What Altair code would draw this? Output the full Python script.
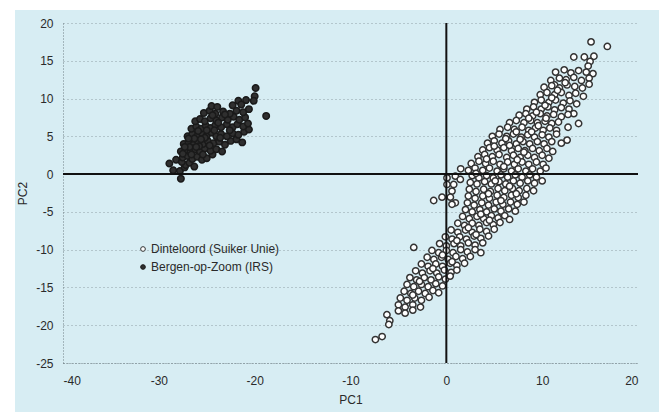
import altair as alt
import pandas as pd

# PC scores (approximate)
berg_points = [
    (-19.9, 11.4), (-20.0, 10.3), (-20.1, 9.7), (-21.7, 9.7), (-20.9, 9.8), (-18.8, 7.7),
    (-21.3, 4.2), (-28.9, 1.4), (-28.2, 1.9), (-27.7, -0.6), (-28.5, 0.5), (-27.8, 0.4), (-27.3, 0.9),
    (-27.2, 1.2), (-26.8, 1.5), (-26.3, 1.0), (-27.6, 1.6),
    (-27.5, 2.2), (-27.0, 2.4), (-26.5, 2.0), (-26.0, 2.3), (-25.5, 1.9), (-25.0, 2.1), (-24.4, 2.6),
    (-27.7, 3.0), (-27.2, 3.2), (-26.7, 2.9), (-26.2, 3.3), (-25.7, 3.0), (-25.2, 3.4), (-24.6, 3.1),
    (-24.0, 3.3), (-23.4, 3.0),
    (-27.4, 4.0), (-26.9, 4.2), (-26.4, 3.9), (-25.9, 4.3), (-25.4, 4.0), (-24.9, 4.4), (-24.3, 4.1),
    (-23.7, 4.3), (-23.1, 3.9), (-22.5, 4.4), (-21.9, 4.6),
    (-27.0, 5.0), (-26.5, 5.3), (-26.0, 5.0), (-25.5, 5.4), (-25.0, 5.1), (-24.5, 5.5), (-24.0, 5.0),
    (-23.5, 5.3), (-22.9, 5.0), (-22.3, 5.4), (-21.7, 5.2), (-21.1, 5.6), (-20.6, 5.9),
    (-26.6, 6.0), (-26.1, 6.3), (-25.6, 6.0), (-25.1, 6.4), (-24.6, 6.1), (-24.1, 6.5), (-23.5, 6.2),
    (-22.9, 6.6), (-22.3, 6.2), (-21.8, 6.6), (-21.2, 6.3), (-20.7, 6.7),
    (-26.2, 7.0), (-25.7, 7.3), (-25.2, 7.0), (-24.6, 7.4), (-24.0, 7.1), (-23.4, 7.5), (-22.8, 7.2),
    (-22.2, 7.6), (-21.6, 7.2), (-21.0, 7.5),
    (-25.3, 8.1), (-24.7, 8.4), (-24.1, 8.0), (-23.3, 8.3), (-22.6, 8.0), (-21.9, 8.4), (-21.2, 8.2),
    (-20.6, 8.6),
    (-24.5, 9.0), (-23.9, 8.9), (-22.3, 9.1), (-21.4, 9.2),
    (-26.8, 3.6), (-26.3, 4.7), (-25.8, 3.7), (-25.2, 4.8), (-24.7, 3.8), (-24.2, 5.8), (-23.8, 6.8),
    (-25.9, 5.7), (-26.9, 4.7), (-27.3, 3.6), (-26.6, 2.6), (-25.4, 2.6), (-23.6, 4.8), (-22.6, 5.8),
    (-23.1, 7.9), (-24.4, 7.8), (-25.0, 5.8), (-25.6, 4.6), (-26.1, 3.6), (-27.5, 2.7),
]

dint_points = [
    (15.1, 17.5), (16.8, 16.9),
    (13.3, 15.5), (14.4, 15.5), (15.4, 15.6), (15.0, 14.9), (14.8, 14.3),
    (11.4, 13.5), (12.3, 13.8), (13.0, 13.4), (13.8, 13.7), (14.6, 13.5), (15.3, 13.3),
    (10.9, 12.4), (11.8, 12.7), (12.5, 12.5), (13.3, 12.8), (14.1, 12.4), (14.9, 12.7), (11.3, 11.8),
    (10.2, 11.5), (11.0, 11.7), (11.8, 11.4), (12.6, 11.8), (13.4, 11.6), (14.2, 11.4), (14.9, 11.9),
    (9.8, 10.5), (10.5, 10.8), (11.3, 10.5), (12.0, 10.8), (12.8, 10.4), (13.5, 10.7), (14.3, 10.3),
    (9.2, 9.5), (9.9, 9.8), (10.7, 9.5), (11.4, 9.8), (12.2, 9.4), (12.9, 9.7), (13.6, 9.3),
    (8.4, 8.6), (9.1, 8.9), (9.9, 8.6), (10.6, 8.9), (11.3, 8.5), (12.0, 8.8), (12.8, 8.6), (13.3, 8.0),
    (7.6, 7.8), (8.3, 8.0), (9.0, 7.7), (9.8, 8.0), (10.5, 7.7), (11.2, 7.9), (12.0, 7.6), (12.7, 7.9),
    (13.8, 6.7), (12.7, 6.2),
    (6.6, 6.8), (7.3, 7.1), (8.1, 6.8), (8.8, 7.1), (9.5, 6.8), (10.3, 7.0), (11.0, 6.7), (11.7, 6.9),
    (5.6, 5.9), (6.4, 6.2), (7.1, 5.9), (7.9, 6.2), (8.6, 5.8), (9.3, 6.1), (10.1, 5.8), (10.8, 6.1),
    (11.5, 5.8),
    (4.8, 5.0), (5.5, 5.3), (6.3, 5.0), (7.0, 5.3), (7.8, 4.9), (8.5, 5.2), (9.2, 4.9), (10.0, 5.2),
    (10.7, 4.9), (11.5, 5.3), (12.6, 4.5), (12.0, 4.1),
    (4.3, 4.1), (5.0, 4.4), (5.8, 4.1), (6.5, 4.4), (7.3, 4.0), (8.0, 4.3), (8.7, 4.0), (9.5, 4.3),
    (10.2, 4.0), (11.0, 4.3),
    (3.8, 3.2), (4.5, 3.5), (5.3, 3.2), (6.0, 3.5), (6.8, 3.1), (7.5, 3.4), (8.2, 3.1), (9.0, 3.4),
    (9.7, 3.1), (10.5, 3.4), (11.1, 3.0),
    (3.3, 2.3), (4.0, 2.6), (4.8, 2.3), (5.5, 2.6), (6.3, 2.2), (7.0, 2.5), (7.7, 2.2), (8.5, 2.5),
    (9.2, 2.2), (10.0, 2.5), (10.7, 2.1),
    (2.6, 1.4), (3.4, 1.7), (4.1, 1.4), (4.9, 1.7), (5.6, 1.3), (6.4, 1.6), (7.1, 1.3), (7.9, 1.6),
    (8.6, 1.3), (9.4, 1.6), (10.1, 1.3),
    (1.5, 0.7), (2.3, 0.5), (3.0, 0.8), (3.8, 0.5), (4.5, 0.8), (5.3, 0.4), (6.0, 0.7), (6.8, 0.4),
    (7.5, 0.7), (8.3, 0.4), (9.0, 0.7), (9.8, 0.4), (10.4, 0.8),
    (2.7, -0.2), (3.4, -0.5), (4.2, -0.2), (4.9, -0.5), (5.7, -0.1), (6.4, -0.4), (7.2, -0.1),
    (7.9, -0.4), (8.7, -0.1), (9.4, -0.4),
    (0.07, -0.5), (0.94, -0.27), (1.46, -0.7), (0.07, -1.37), (0.77, -1.37), (0.59, -2.25),
    (-1.32, -3.49), (-0.45, -3.05), (0.42, -3.05), (0.94, -3.8), (0.59, -4.0),
    (2.5, -1.1), (3.2, -1.3), (4.0, -1.0), (4.7, -1.3), (5.5, -1.0), (6.2, -1.3), (7.0, -0.9),
    (7.7, -1.2), (8.5, -0.9), (9.2, -1.2), (10.0, -0.9),
    (2.4, -2.0), (3.1, -2.3), (3.9, -2.0), (4.6, -2.3), (5.4, -1.9), (6.1, -2.2), (6.9, -1.9),
    (7.6, -2.2), (8.4, -1.9), (9.1, -2.2),
    (2.3, -2.9), (3.0, -3.2), (3.8, -2.9), (4.5, -3.2), (5.3, -2.8), (6.0, -3.1), (6.8, -2.8),
    (7.5, -3.1), (8.3, -2.8),
    (2.2, -3.8), (2.9, -4.1), (3.7, -3.8), (4.4, -4.1), (5.2, -3.7), (5.9, -4.0), (6.7, -3.7),
    (7.4, -4.0), (8.1, -3.7),
    (2.0, -4.7), (2.7, -5.0), (3.5, -4.7), (4.2, -5.0), (5.0, -4.6), (5.7, -4.9), (6.5, -4.6), (7.2, -4.9),
    (1.7, -5.6), (2.4, -5.9), (3.2, -5.6), (3.9, -5.9), (4.7, -5.5), (5.4, -5.8), (6.1, -5.5), (6.6, -6.0),
    (1.2, -6.5), (1.9, -6.8), (2.7, -6.5), (3.4, -6.8), (4.2, -6.4), (4.9, -6.7), (5.6, -6.4),
    (0.5, -7.4), (1.2, -7.7), (2.0, -7.4), (2.7, -7.7), (3.5, -7.3), (4.2, -7.6), (5.0, -7.3),
    (-0.1, -8.3), (0.6, -8.6), (1.4, -8.3), (2.1, -8.6), (2.9, -8.2), (3.6, -8.5), (4.4, -8.2),
    (-0.7, -9.2), (0.0, -9.5), (0.8, -9.2), (1.5, -9.5), (2.3, -9.1), (3.0, -9.4), (3.8, -9.1),
    (-3.4, -9.7),
    (-1.5, -10.1), (-0.8, -10.4), (0.0, -10.1), (0.7, -10.4), (1.5, -10.0), (2.2, -10.3), (3.0, -10.0),
    (3.6, -10.4),
    (-2.0, -11.0), (-1.3, -11.3), (-0.5, -11.0), (0.2, -11.3), (1.0, -10.9), (1.7, -11.2), (2.5, -10.9),
    (-2.6, -11.9), (-1.9, -12.2), (-1.1, -11.9), (-0.4, -12.2), (0.4, -11.8), (1.1, -12.1), (1.9, -11.8),
    (-3.2, -12.8), (-2.5, -13.1), (-1.7, -12.8), (-1.0, -13.1), (-0.2, -12.7), (0.5, -13.0), (1.1, -12.7),
    (-3.8, -13.7), (-3.1, -14.0), (-2.3, -13.7), (-1.6, -14.0), (-0.8, -13.6), (-0.1, -13.9), (0.4, -13.5),
    (-4.1, -14.6), (-3.4, -14.9), (-2.6, -14.6), (-1.9, -14.9), (-1.1, -14.5), (-0.4, -14.8),
    (-4.4, -15.5), (-3.7, -15.8), (-2.9, -15.5), (-2.2, -15.8), (-1.4, -15.4), (-0.8, -15.7),
    (-4.8, -16.4), (-4.1, -16.7), (-3.3, -16.4), (-2.6, -16.7), (-1.8, -16.3),
    (-5.0, -17.3), (-4.3, -17.6), (-3.5, -17.3), (-2.7, -17.6),
    (-5.0, -18.1), (-4.3, -18.4), (-3.5, -18.0),
    (-6.2, -18.6), (-5.9, -19.4), (-6.0, -19.9), (-7.4, -21.9), (-6.7, -21.5),
    (6.0, 1.0), (7.4, 1.9), (8.1, 2.9), (6.6, 3.8), (7.7, 4.6), (8.9, 5.6), (9.6, 6.4), (10.4, 7.4),
    (8.6, 7.4), (9.4, 8.2), (10.3, 9.1), (11.0, 10.1), (11.6, 11.1), (12.4, 12.1), (5.1, -0.9),
    (4.4, -2.6), (5.7, -3.5), (3.6, -5.3), (4.5, -6.1), (2.3, -7.1), (3.1, -8.0), (1.1, -8.8),
    (-0.4, -10.7), (0.6, -11.6), (-1.4, -12.5), (-2.8, -14.2), (-3.5, -16.0), (5.0, 3.7), (6.2, 4.7),
    (7.3, 5.6), (4.2, 2.0), (3.1, 0.1), (6.6, -1.6), (7.3, -2.6),
]

site_names = ["Dinteloord (Suiker Unie)", "Bergen-op-Zoom (IRS)"]
site_fill = ["#ffffff", "#2f2f2f"]
site_stroke = ["#333333", "#1a1a1a"]
x_ticks = [-40, -30, -20, -10, 0, 10, 20]
y_ticks = [-25, -20, -15, -10, -5, 0, 5, 10, 15, 20]

rows = [{"pc1": x, "pc2": y, "site": site_names[0]} for x, y in dint_points]
rows += [{"pc1": x, "pc2": y, "site": site_names[1]} for x, y in berg_points]
df = pd.DataFrame(rows)

FONT = "Liberation Sans"
TXT = "#2a2a2a"
PANEL = "#d7edf3"
GRID = "#6f7f84"

xs = alt.Scale(domain=[-40, 20], nice=False, zero=False)
ys = alt.Scale(domain=[-25, 20], nice=False, zero=False)
fill_scale = alt.Scale(domain=site_names, range=site_fill)
stroke_scale = alt.Scale(domain=site_names, range=site_stroke)

# white margins of the scanned page (top and left strips)
one = pd.DataFrame({"a": [0]})
top_strip = alt.Chart(one).mark_rect(color="#ffffff").encode(
    x=alt.value(-63), x2=alt.value(596), y=alt.value(-23), y2=alt.value(-13)
)
left_strip = alt.Chart(one).mark_rect(color="#ffffff").encode(
    x=alt.value(-63), x2=alt.value(-48), y=alt.value(-23), y2=alt.value(389)
)

x_axis = alt.Axis(
    values=x_ticks, title="PC1", grid=False, ticks=False, labelPadding=12,
    labelExpr="'' + datum.value", labelOverlap=False,
    domainDash=[1, 2], domainColor=GRID, titlePadding=8)
y_axis = alt.Axis(
    values=y_ticks, title="PC2", grid=True, gridDash=[1, 3], gridColor=GRID,
    gridOpacity=0.7, ticks=False, labelPadding=10, domainDash=[1, 2],
    labelExpr="'' + datum.value", labelOverlap=False,
    domainColor=GRID, titleX=-41, titleY=170, titleAngle=270,
    titleAlign="center", titleBaseline="middle")

points = alt.Chart(df).mark_point(filled=True, shape="circle", strokeWidth=1.5, opacity=1).encode(
    x=alt.X("pc1:Q", scale=xs, axis=x_axis),
    y=alt.Y("pc2:Q", scale=ys, axis=y_axis),
    fill=alt.Fill("site:N", scale=fill_scale, legend=None),
    stroke=alt.Stroke("site:N", scale=stroke_scale, legend=None),
    size=alt.Size("site:N", scale=alt.Scale(domain=site_names, range=[40, 42]), legend=None),
)

hline = alt.Chart(pd.DataFrame({"y": [0]})).mark_rule(color="#111111", strokeWidth=2).encode(
    y=alt.Y("y:Q", scale=ys, axis=y_axis)
)
vline = alt.Chart(pd.DataFrame({"x": [0]})).mark_rule(color="#111111", strokeWidth=2).encode(
    x=alt.X("x:Q", scale=xs, axis=x_axis)
)

# hand-placed legend inside the plot area
legend_layers = []
for i, name in enumerate(site_names):
    row_df = pd.DataFrame({"site": [name]})
    ypix = 226 + 18 * i
    legend_layers.append(
        alt.Chart(row_df).mark_point(filled=True, shape="circle", size=22, strokeWidth=1,
                                     fill=site_fill[i], stroke=site_stroke[i], opacity=1).encode(
            x=alt.value(80), y=alt.value(ypix))
    )
    legend_layers.append(
        alt.Chart(row_df).mark_text(align="left", baseline="middle", font=FONT,
                                    fontSize=12, color=TXT).encode(
            x=alt.value(88), y=alt.value(ypix), text="site:N")
    )

chart = alt.layer(top_strip, left_strip, points, hline, vline, *legend_layers).properties(
    width=575, height=340,
    autosize=alt.AutoSizeParams(type="none"),
    padding={"left": 63, "top": 23, "right": 21, "bottom": 49},
    background=PANEL,
).configure_view(stroke=None).configure_axis(
    labelFont=FONT, labelFontSize=12, labelColor=TXT, titleFont=FONT, titleFontSize=12,
    titleColor=TXT, titleFontWeight="normal"
)

chart.save("out.html", embed_options={"renderer": "svg", "actions": False})
